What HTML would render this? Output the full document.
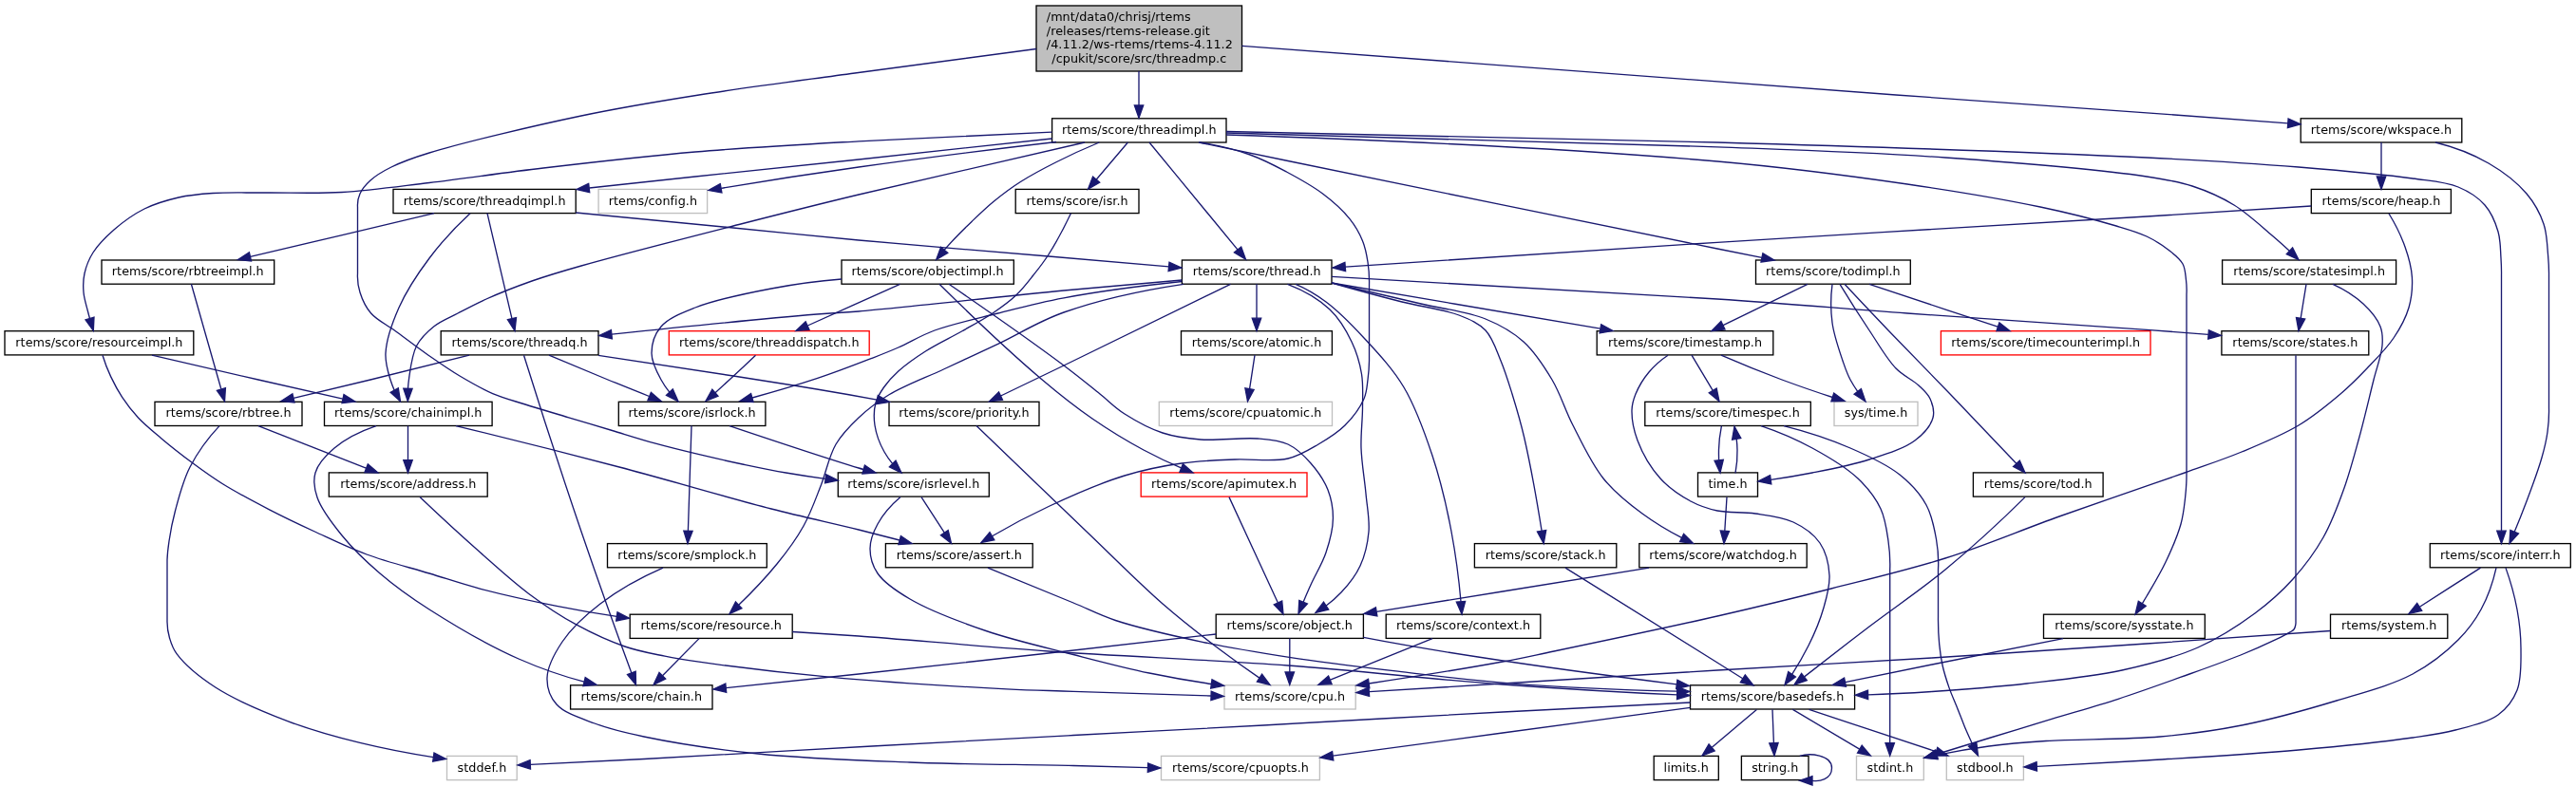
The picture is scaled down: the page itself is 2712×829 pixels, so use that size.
<!DOCTYPE html>
<html><head><meta charset="utf-8"><title>threadmp.c include graph</title>
<style>html,body{margin:0;padding:0;background:#fff;width:2712px;height:829px;overflow:hidden}svg{display:block;will-change:transform}text{letter-spacing:0.05px;font-family:"DejaVu Sans","Liberation Sans",sans-serif;font-size:12.75px;fill:#000}.e path{fill:none;stroke:#191970;stroke-width:1.33}.e polygon{fill:#191970;stroke:#191970;stroke-width:1.33}.n rect{fill:#fff;stroke-width:1.33}.b{stroke:#000}.g{stroke:#bfbfbf}.r{stroke:#f00}</style></head><body>
<svg width="2712" height="829" viewBox="0 0 2712 829">
<rect width="2712" height="829" fill="#fff"/>
<g class="n">
<rect class="b" x="1091" y="6" width="216.5" height="69" style="fill:#bfbfbf"/>
<text x="1101.8" y="21.9">/mnt/data0/chrisj/rtems</text>
<text x="1101.8" y="36.6">/releases/rtems-release.git</text>
<text x="1101.8" y="51.4">/4.11.2/ws-rtems/rtems-4.11.2</text>
<text x="1199.3" y="66.15" text-anchor="middle">/cpukit/score/src/threadmp.c</text>
<rect class="b" x="1107.6" y="124.8" width="183.4" height="25.2"/>
<text x="1199.3" y="140.9" text-anchor="middle">rtems/score/threadimpl.h</text>
<rect class="b" x="2422.2" y="124.8" width="169.6" height="25.2"/>
<text x="2507" y="140.9" text-anchor="middle">rtems/score/wkspace.h</text>
<rect class="b" x="414" y="199.4" width="192.2" height="25.2"/>
<text x="510.1" y="215.6" text-anchor="middle">rtems/score/threadqimpl.h</text>
<rect class="g" x="630.1" y="199.4" width="114.5" height="25.2"/>
<text x="687.4" y="215.6" text-anchor="middle">rtems/config.h</text>
<rect class="b" x="1069.2" y="199.4" width="129.8" height="25.2"/>
<text x="1134.1" y="215.6" text-anchor="middle">rtems/score/isr.h</text>
<rect class="b" x="2433.3" y="199.4" width="147.1" height="25.2"/>
<text x="2506.9" y="215.6" text-anchor="middle">rtems/score/heap.h</text>
<rect class="b" x="107" y="274" width="181.7" height="25.2"/>
<text x="197.8" y="290.2" text-anchor="middle">rtems/score/rbtreeimpl.h</text>
<rect class="b" x="886" y="274" width="181.3" height="25.2"/>
<text x="976.6" y="290.2" text-anchor="middle">rtems/score/objectimpl.h</text>
<rect class="b" x="1244.4" y="274" width="157.6" height="25.2"/>
<text x="1323.2" y="290.2" text-anchor="middle">rtems/score/thread.h</text>
<rect class="b" x="1848.5" y="274" width="162.8" height="25.2"/>
<text x="1929.9" y="290.2" text-anchor="middle">rtems/score/todimpl.h</text>
<rect class="b" x="2339.6" y="274" width="183" height="25.2"/>
<text x="2431.1" y="290.2" text-anchor="middle">rtems/score/statesimpl.h</text>
<rect class="b" x="5" y="348.7" width="198.8" height="25.2"/>
<text x="104.4" y="364.8" text-anchor="middle">rtems/score/resourceimpl.h</text>
<rect class="b" x="464.2" y="348.7" width="165.8" height="25.2"/>
<text x="547.1" y="364.8" text-anchor="middle">rtems/score/threadq.h</text>
<rect class="r" x="704.3" y="348.7" width="210.9" height="25.2"/>
<text x="809.8" y="364.8" text-anchor="middle">rtems/score/threaddispatch.h</text>
<rect class="b" x="1243.5" y="348.7" width="158.9" height="25.2"/>
<text x="1323" y="364.8" text-anchor="middle">rtems/score/atomic.h</text>
<rect class="b" x="1681.2" y="348.7" width="185.6" height="25.2"/>
<text x="1774" y="364.8" text-anchor="middle">rtems/score/timestamp.h</text>
<rect class="r" x="2043.4" y="348.7" width="220.6" height="25.2"/>
<text x="2153.7" y="364.8" text-anchor="middle">rtems/score/timecounterimpl.h</text>
<rect class="b" x="2338.9" y="348.7" width="154.9" height="25.2"/>
<text x="2416.4" y="364.8" text-anchor="middle">rtems/score/states.h</text>
<rect class="b" x="163" y="423.3" width="155" height="25.2"/>
<text x="240.5" y="439.4" text-anchor="middle">rtems/score/rbtree.h</text>
<rect class="b" x="341.5" y="423.3" width="176.6" height="25.2"/>
<text x="429.8" y="439.4" text-anchor="middle">rtems/score/chainimpl.h</text>
<rect class="b" x="651.3" y="423.3" width="154.6" height="25.2"/>
<text x="728.6" y="439.4" text-anchor="middle">rtems/score/isrlock.h</text>
<rect class="b" x="936" y="423.3" width="158" height="25.2"/>
<text x="1015" y="439.4" text-anchor="middle">rtems/score/priority.h</text>
<rect class="g" x="1220.3" y="423.3" width="182.2" height="25.2"/>
<text x="1311.4" y="439.4" text-anchor="middle">rtems/score/cpuatomic.h</text>
<rect class="b" x="1731.8" y="423.3" width="174.5" height="25.2"/>
<text x="1819" y="439.4" text-anchor="middle">rtems/score/timespec.h</text>
<rect class="g" x="1931" y="423.3" width="88" height="25.2"/>
<text x="1975" y="439.4" text-anchor="middle">sys/time.h</text>
<rect class="b" x="346.3" y="497.9" width="166.9" height="25.2"/>
<text x="429.8" y="514.1" text-anchor="middle">rtems/score/address.h</text>
<rect class="b" x="882.3" y="497.9" width="159" height="25.2"/>
<text x="961.8" y="514.1" text-anchor="middle">rtems/score/isrlevel.h</text>
<rect class="r" x="1201.2" y="497.9" width="174.8" height="25.2"/>
<text x="1288.6" y="514.1" text-anchor="middle">rtems/score/apimutex.h</text>
<rect class="b" x="1787.5" y="497.9" width="63" height="25.2"/>
<text x="1819" y="514.1" text-anchor="middle">time.h</text>
<rect class="b" x="2077.4" y="497.9" width="136.7" height="25.2"/>
<text x="2145.8" y="514.1" text-anchor="middle">rtems/score/tod.h</text>
<rect class="b" x="639.5" y="572.6" width="167.8" height="25.2"/>
<text x="723.4" y="588.7" text-anchor="middle">rtems/score/smplock.h</text>
<rect class="b" x="932.4" y="572.6" width="154.8" height="25.2"/>
<text x="1009.8" y="588.7" text-anchor="middle">rtems/score/assert.h</text>
<rect class="b" x="1552.4" y="572.6" width="149.4" height="25.2"/>
<text x="1627.1" y="588.7" text-anchor="middle">rtems/score/stack.h</text>
<rect class="b" x="1725.8" y="572.6" width="176.4" height="25.2"/>
<text x="1814" y="588.7" text-anchor="middle">rtems/score/watchdog.h</text>
<rect class="b" x="2558.3" y="572.6" width="148" height="25.2"/>
<text x="2632.3" y="588.7" text-anchor="middle">rtems/score/interr.h</text>
<rect class="b" x="663.2" y="647.2" width="171" height="25.2"/>
<text x="748.7" y="663.3" text-anchor="middle">rtems/score/resource.h</text>
<rect class="b" x="1280.2" y="647.2" width="155.2" height="25.2"/>
<text x="1357.8" y="663.3" text-anchor="middle">rtems/score/object.h</text>
<rect class="b" x="1459.2" y="647.2" width="162.6" height="25.2"/>
<text x="1540.5" y="663.3" text-anchor="middle">rtems/score/context.h</text>
<rect class="b" x="2151.5" y="647.2" width="169.8" height="25.2"/>
<text x="2236.4" y="663.3" text-anchor="middle">rtems/score/sysstate.h</text>
<rect class="b" x="2453.5" y="647.2" width="123.3" height="25.2"/>
<text x="2515.2" y="663.3" text-anchor="middle">rtems/system.h</text>
<rect class="b" x="600.6" y="721.8" width="149.4" height="25.2"/>
<text x="675.3" y="738" text-anchor="middle">rtems/score/chain.h</text>
<rect class="g" x="1289" y="721.8" width="138.2" height="25.2"/>
<text x="1358.1" y="738" text-anchor="middle">rtems/score/cpu.h</text>
<rect class="b" x="1779.5" y="721.8" width="173.1" height="25.2"/>
<text x="1866" y="738" text-anchor="middle">rtems/score/basedefs.h</text>
<rect class="g" x="470.5" y="796.4" width="73.7" height="25.2"/>
<text x="507.4" y="812.6" text-anchor="middle">stddef.h</text>
<rect class="g" x="1222.5" y="796.4" width="166.9" height="25.2"/>
<text x="1306" y="812.6" text-anchor="middle">rtems/score/cpuopts.h</text>
<rect class="b" x="1741.2" y="796.4" width="68.1" height="25.2"/>
<text x="1775.2" y="812.6" text-anchor="middle">limits.h</text>
<rect class="b" x="1833.4" y="796.4" width="70.6" height="25.2"/>
<text x="1868.7" y="812.6" text-anchor="middle">string.h</text>
<rect class="g" x="1954.5" y="796.4" width="70.8" height="25.2"/>
<text x="1989.9" y="812.6" text-anchor="middle">stdint.h</text>
<rect class="g" x="2049.3" y="796.4" width="81.1" height="25.2"/>
<text x="2089.9" y="812.6" text-anchor="middle">stdbool.h</text>
</g>
<g class="e">
<path d="M1199,75C1199,87 1199,98.9 1199,110.9"/>
<polygon points="1194.3,110.9 1199,124.2 1203.7,110.9"/>
<path d="M1091,51.5C1024.9,60.1 961.2,68.6 900,77C843.2,84.8 786.8,91.9 736,100C691.7,107 655.8,112.8 612,122C561.9,132.5 487.3,150.1 452,161C434,166.5 423.1,170.5 412,176C403.3,180.3 395.7,184.8 390,190C385.3,194.3 381.2,199 379,204C377,208.4 376.2,213.1 376.5,218C376.5,241.3 376.5,264.7 376.5,288C376.1,294.7 376.9,301.4 379,308C381.3,315.4 385,323.6 390.6,330C396.8,337.2 406.7,341.7 415.7,348.3C426.2,356 438.5,365.4 450,373.5C461.4,381.4 472.8,389.4 484.4,396.3C495.7,403 507.1,409.6 518.7,414.6C529.9,419.4 540.7,422.1 553,426C567.1,430.5 583.5,435.2 598.7,439.8C614,444.4 629.2,448.9 644.5,453.5C659.7,458.1 674.9,463 690.2,467.2C705.4,471.4 720.7,475.1 736,478.7C751.2,482.3 766.4,485.8 781.7,489C796.9,492.2 811.4,495.3 827.4,498C840.7,500.3 854.6,502.4 868.9,504.3"/>
<polygon points="868.5,508.9 882.3,506 869.7,499.7"/>
<path d="M1307.5,48.4C1591,70 1820.5,87.2 1996,100C2104.7,107.9 2182.7,113.2 2260,118.8C2315,122.8 2364.5,126.5 2408.7,129.8"/>
<polygon points="2408.4,134.5 2422,130.8 2409.1,125.1"/>
<path d="M1107.6,139.2C1036.9,142 969,145.2 904,148.8C844.2,152.2 788.2,155.2 732,160C677.7,164.7 621.5,171.2 572,177C529.1,182 489.4,188.1 452,192.5C419.3,196.4 389.6,200.8 360,202.5C332.4,204.1 304.3,202.8 280,203C259.7,203.2 240.6,202.4 224,203.5C210.7,204.4 199.9,205.3 188,208C175.9,210.8 163.3,214.4 152,220C140.6,225.7 129.3,233.9 120,242C111.5,249.4 103.3,257.7 98,266C93.5,273.1 90.6,280.7 89,288C87.5,294.7 87.4,301.4 88,308C88.6,314.7 90.8,321.3 92.5,328C93.1,330.5 93.8,333 94.5,335.5"/>
<polygon points="90,336.9 98.3,348.3 99,334.2"/>
<path d="M1107.6,146C1036.9,153.8 969,161.1 904,168C844.3,174.4 784.8,180.4 732,186C692.2,190.2 655,194.2 620.4,198"/>
<polygon points="619.7,193.4 607,199.5 620.7,202.7"/>
<path d="M1112,149.5C1037.9,158.1 968.5,166.9 904,176C852.7,183.2 804.4,190.7 759.2,198.3"/>
<polygon points="758.3,193.7 746,200.5 759.9,202.9"/>
<path d="M1142,150C1051,170.4 971.7,188.7 904,205C853.5,217.1 818.1,226.2 772,238C721.2,251 650.6,269 612,280C589.8,286.3 576.9,290.1 560,296C543.6,301.8 526,308.7 512,315C500.7,320 491.5,325 482,330C473.2,334.6 464.3,337.9 457,343.7C449.8,349.4 443,355.9 438.6,364.3C433.7,373.8 432.1,388.1 430.6,398.6C430.1,402.2 429.7,405.7 429.5,409.1"/>
<polygon points="424.8,409.2 429.3,422.6 434.1,409.4"/>
<path d="M1157.3,150C1141.6,156.5 1126.7,163.3 1112.5,170.5C1099.2,177.2 1086,184.1 1074.4,191.5C1063.9,198.2 1054.6,205.3 1045.8,212.5C1037.6,219.3 1030.2,226.5 1023,233.4C1016.3,239.8 1010.1,245.9 1003.9,252.5C1000.6,256 997.4,259.6 994.2,263.3"/>
<polygon points="990.6,260.3 985.7,273.5 997.8,266.3"/>
<path d="M1187.4,150C1176.4,163 1165.3,176 1154.3,189"/>
<polygon points="1150.6,186.1 1145.5,199.3 1157.7,192.2"/>
<path d="M1210,150C1241,187.6 1271.9,225.2 1302.9,262.9"/>
<polygon points="1299.4,266 1311.5,273.3 1306.7,260.1"/>
<path d="M1263,150C1282.3,153 1300,157.4 1316,163C1330.1,168 1341.8,174.3 1354.4,181C1367.3,187.9 1381.1,195.4 1392.5,204C1403.2,212 1413.7,221.5 1421,230.6C1427,238.1 1431.2,245.6 1434.4,253.4C1437.4,260.7 1438.8,268.3 1440,276C1441.2,283.8 1441.7,291.8 1441.5,300C1441.5,326.7 1441.5,353.3 1441.5,380C1441.4,386.7 1440.9,393.4 1440,400C1439.1,406.7 1439,413.1 1436,420C1432.1,429 1424,440 1416,448C1408,456 1397.9,462.2 1388,468C1377.9,473.9 1368.5,480.1 1356,483C1340.3,486.7 1318.7,483.2 1300,484C1281.3,484.8 1262.9,485.3 1244,488C1224.2,490.8 1205.1,494.5 1184,501C1158.9,508.7 1129.6,521.5 1104,533.5C1083.4,543.1 1063.6,553.5 1044.5,564.7"/>
<polygon points="1042,560.7 1033,571.5 1046.8,568.7"/>
<path d="M1262,150C1281.6,154.1 1313,160.6 1356,169.5C1450.4,188.9 1727.5,245.7 1808,262C1827.9,266 1843.6,269.2 1854.9,271.4"/>
<polygon points="1854,276 1868,274 1855.9,266.9"/>
<path d="M1291,138.5C1469.1,141.4 1641.5,145.2 1808,150C1963.7,154.5 2147.6,160.5 2260,166C2326.9,169.3 2370.5,172 2420,176C2462.9,179.5 2509.1,183.6 2540,188C2559.7,190.8 2574.6,191.5 2588,197C2599.1,201.6 2609,207.9 2616,216C2622.8,223.7 2627.2,234.4 2630,244C2632.7,253.1 2632.4,263.7 2633,272C2633.4,278.7 2633.6,284.7 2633.5,290C2633.5,379.7 2633.5,469.3 2633.5,559"/>
<polygon points="2628.8,559.2 2633.5,572.5 2638.2,559.2"/>
<path d="M1291,140C1496,144.6 1668.3,149.5 1808,154.8C1903.2,158.4 1970.5,160.5 2048,166C2120.9,171.1 2214.6,179.1 2260,186C2281.8,189.3 2292.6,191 2308,196C2323.3,201 2338.2,207.5 2352,216C2366.2,224.7 2380,237.8 2392,248C2398.5,253.5 2404.6,259 2410.3,264.3"/>
<polygon points="2407.2,267.7 2420,273.5 2413.6,260.9"/>
<path d="M1291,142C1503.6,149.2 1676,158.5 1808,170C1890.3,177.2 1947.4,185.2 2008,194C2058.9,201.4 2108,209.6 2148,218C2178.5,224.4 2207.4,231.9 2228,238C2241.2,241.9 2250.3,244.4 2260,249C2268.8,253.2 2277.3,258.7 2284,264C2289.6,268.4 2295.1,272.6 2298,278C2300.7,283 2300.8,289.5 2301.5,295C2302.1,300.1 2302.3,305.1 2302,310C2302,373.3 2302,436.7 2302,500C2302,508.2 2301.5,516.5 2300.5,525C2299.5,533.9 2298.7,542.3 2296,552C2292.6,564.2 2286.1,579.2 2280,592C2274.1,604.5 2265.9,618 2260,628C2258.4,630.7 2256.8,633.3 2255.3,635.8"/>
<polygon points="2251.3,633.3 2248,647 2259.2,638.4"/>
<path d="M2507,150C2507,162 2507,173.9 2507,185.9"/>
<polygon points="2502.3,185.9 2507,199.2 2511.7,185.9"/>
<path d="M2564,150C2584.9,155.1 2603.5,162.5 2620,172C2635.2,180.8 2650,192.3 2660,204C2668.4,213.9 2674.3,225 2678,236C2681.5,246.3 2681.6,258.3 2682.5,268C2683.2,276 2683.6,283.3 2683.5,290C2683.5,336.7 2683.5,383.3 2683.5,430C2683.7,438.2 2683.2,446.6 2682,455C2680.8,463.9 2678.9,471.9 2676,482C2672.2,495.4 2665.7,512.9 2660,528C2655.9,538.8 2651.7,549.5 2647.3,560.1"/>
<polygon points="2642.9,558.4 2642,572.5 2651.5,562.1"/>
<path d="M2433.3,217C2389.1,219.9 2331.4,223.6 2260,228C2144.8,235.1 1954.5,246 1808,255.3C1674,263.8 1543.4,272.4 1416.4,281.1"/>
<polygon points="1415.9,276.4 1403,282 1416.6,285.7"/>
<path d="M2515,225C2522.2,236.7 2527.9,248.4 2532,260C2535.8,270.7 2538.7,281.3 2539.4,292C2540,302.6 2539,313.6 2536,324C2532.8,335 2526.9,345.8 2520,356C2512.5,367.2 2501.6,378 2492,388C2482.9,397.6 2474.7,405.9 2464,415C2451.3,425.8 2436.4,438.2 2420,448C2402,458.8 2380.2,467.6 2360,476C2340.2,484.2 2323.9,489.4 2300,498C2264.6,510.7 2210.9,528.7 2168,544C2127,558.7 2088.3,575.3 2048,588C2008.3,600.5 1968.1,609.8 1928,620C1888.1,630.2 1851.7,639 1808,649C1755.9,660.9 1677.2,677.4 1636,686C1612.9,690.8 1604.7,692.9 1582,697C1546.5,703.5 1499.5,711.2 1441.2,720"/>
<polygon points="1440.5,715.4 1428,722 1441.8,724.6"/>
<path d="M457,224.7C392.5,239.9 328.1,255.2 263.6,270.4"/>
<polygon points="262.4,265.9 250.5,273.5 264.5,275"/>
<path d="M495,224.7C478.9,239.5 464.6,255.2 452,272C439.7,288.4 427.8,306.5 420,324C413,339.9 406.7,358.1 406,372C405.4,382.5 408.3,391.3 411,400C412.2,403.8 413.6,407.4 415.1,410.9"/>
<polygon points="411.1,413.3 421.5,422.8 419.3,408.9"/>
<path d="M513,224.7C521.6,261.6 530.3,298.5 538.9,335.3"/>
<polygon points="534.4,336.6 542,348.5 543.5,334.5"/>
<path d="M606.2,224C664.6,229.6 719.9,234.9 772,240C818.5,244.5 855.4,248.5 904,253C963.7,258.5 1043.3,264.8 1104,270C1149.5,273.9 1191.7,277.5 1230.5,280.9"/>
<polygon points="1230.1,285.5 1243.8,282 1231,276.2"/>
<path d="M1127.4,224.7C1119.3,241.8 1111.5,256.2 1104,268C1098.4,276.8 1093.5,282.9 1087.8,290C1082.1,297.2 1076.6,304.5 1069.7,311C1062.4,317.9 1054,323.9 1045,330C1035.1,336.7 1023.8,342.6 1012.5,349C1000.3,355.9 986,362.6 974.4,370C963.9,376.7 953.6,384 945.8,391C939.6,396.6 934.6,402.2 930.5,408C926.9,413.2 923.7,417.9 922,424C920.1,431 919.8,439.8 921,448C922.4,457.1 926.2,467.6 931,476C933.5,480.4 936.4,484.5 939.6,488.4"/>
<polygon points="936.4,491.8 949,498 943,485.2"/>
<path d="M201.4,299.3C211.9,336.1 222.3,373 232.8,409.8"/>
<polygon points="228.4,411.3 236.5,422.8 237.4,408.7"/>
<path d="M886,294C861.7,295.9 837,299.2 812,304C785.7,309 753,315.7 732,324C717.2,329.9 703.6,335 696,344C689.5,351.6 686,362.7 686,372C686,381.3 691.3,391.5 696,400C698.5,404.6 701.5,409 704.8,413.1"/>
<polygon points="701.5,416.3 714,422.8 708.3,409.9"/>
<path d="M947.5,299.3C915.1,313.9 882.7,328.4 850.3,343"/>
<polygon points="848.2,338.8 838,348.5 852,347.3"/>
<path d="M989,299.3C1030.2,340.1 1065.9,373.3 1096,399C1116.6,416.5 1131.6,428.3 1150,441C1167.7,453.2 1185.9,464.3 1204,474C1217.1,481 1230.2,487.3 1243.5,492.9"/>
<polygon points="1241.9,497.3 1256,498 1245.4,488.7"/>
<path d="M999,299.3C1050.9,334.9 1091.2,363.5 1120,385C1136.4,397.3 1146.6,405.9 1158,415C1167.5,422.6 1174,429.6 1184,436C1195.6,443.4 1210.3,451.5 1224,456C1237,460.3 1249.3,461.8 1264,463C1281.9,464.4 1307.2,460.6 1324,462C1336.4,463 1346.6,463.6 1356,468C1365.2,472.3 1373.1,480.2 1380,488C1387.1,496.1 1394.1,506.1 1398,516C1401.7,525.5 1403.5,535.6 1403.4,546C1403.3,557.5 1399.9,570.4 1396,582C1392.1,593.7 1385,604.9 1380,616C1377.2,622.1 1374.6,628.2 1372.1,634.2"/>
<polygon points="1367.8,632.4 1367,646.5 1376.4,636"/>
<path d="M1942,299.3C1955.9,314.3 1971.3,330.5 1988,348C2007.7,368.6 2030.3,391.4 2053,415C2075.3,438.2 2098.6,462.7 2122.8,488.3"/>
<polygon points="2119.5,491.5 2132,498 2126.3,485.1"/>
<path d="M1903,299.3C1873.4,313.7 1843.8,328.2 1814.1,342.6"/>
<polygon points="1811.9,338.5 1802,348.5 1816,346.9"/>
<path d="M1968,299.3C2013.1,314.3 2058.1,329.3 2103.2,344.2"/>
<polygon points="2101.9,348.7 2116,348.5 2104.9,339.9"/>
<path d="M1929,299.3C1927.2,313 1927.2,326.6 1929,340C1930.8,353.5 1936.3,369 1940,380C1942.7,387.9 1944.4,393.3 1948,400C1950.2,404.1 1952.8,408.2 1955.7,412.3"/>
<polygon points="1952.1,415.2 1964,422.8 1959.4,409.5"/>
<path d="M1937,299.3C1947.4,316.4 1957.8,332.7 1968,348C1977.4,362.1 1986.2,377.9 1996,388C2003.7,396 2013.6,400 2020,406C2025,410.7 2029.5,414.5 2032,420C2034.6,425.8 2036.8,433.4 2035,440C2032.8,448.1 2024.9,457.3 2016,464C2004.4,472.8 1985.1,478.5 1968,484C1949.3,490 1927.8,494.1 1908,498C1893.3,500.9 1878.8,503.3 1864.3,505.3"/>
<polygon points="1863.6,500.7 1851,507 1864.8,509.9"/>
<path d="M2428,299.3C2426.1,311.2 2424.1,323.2 2422.2,335.1"/>
<polygon points="2417.5,334.6 2420,348.5 2426.7,336.1"/>
<path d="M2456,299.3C2468.7,305.1 2479.4,312 2488,320C2495.6,327.1 2502.9,335.9 2506,344C2508.6,350.6 2508.6,356.4 2508,364C2507.2,374.3 2502.4,386.5 2499,400C2494.6,417.5 2489.3,440.6 2484,460C2478.9,478.5 2474.3,496.3 2468,514C2461.7,531.7 2455.1,549.9 2446,566C2437.1,581.8 2426,596.6 2414,610C2402,623.3 2389.3,634.7 2374,646C2356.6,658.9 2336.1,672.2 2314,682C2289.8,692.7 2262.4,699.8 2234,706C2202.8,712.8 2167.4,716.2 2134,720C2100.7,723.7 2065.6,726.4 2034,728.5C2010.6,730 1988.1,731.2 1966.7,731.9"/>
<polygon points="1966.5,727.2 1953.3,732.3 1966.7,736.6"/>
<path d="M108,374.2C110.3,381.8 113.2,389.3 116.6,396.6C120.1,404 123.9,411.2 128.6,418.3C133.5,425.7 139,433 145.5,440C152.6,447.6 160.8,454.2 169.7,461.7C179.9,470.3 192.3,480 203.5,488.3C214,496.1 223.1,502.7 234.9,510C249.1,518.8 266.9,528.2 283.1,536.6C299.1,544.9 314.7,552.3 331.4,560C349,568.1 366.7,576.9 386,584C406.7,591.7 431.1,597.7 452,604C470.9,609.7 486.1,615.1 506,620.3C530,626.6 559.6,633.1 586,638.3C607.2,642.5 628.3,646.2 649.3,649.4"/>
<polygon points="648.7,654 662.5,651.3 650,644.7"/>
<path d="M160,374.2C198.2,383.1 235.5,391.7 272,400C302.2,406.9 331.8,413.6 360.8,420.1"/>
<polygon points="360,424.7 374,423 362,415.5"/>
<path d="M1244.4,295C1208.6,297.8 1167.1,301.5 1120,306C1057.9,311.9 948.8,324.2 904,328C883.8,329.7 880.4,329.3 860,331C815.4,334.7 743.4,341.7 644,352.1"/>
<polygon points="643.4,347.5 630.7,353.5 644.4,356.8"/>
<path d="M1244.4,296.5C1196.8,301.5 1155.3,307.2 1120,313.8C1093.4,318.7 1073.4,324.2 1050.6,330C1028.1,335.7 1002.9,341.1 984,348C969.2,353.4 957.7,360.8 945.8,366C935.6,370.5 928.3,373.3 917,377.7C901.3,383.8 880.8,391.8 860,398.7C839.1,405.6 816.4,412.4 792,419"/>
<polygon points="790.6,414.6 779,422.5 793.1,423.6"/>
<path d="M1246,299.3C1197.2,306.6 1155.2,316.5 1120,329C1092.8,338.6 1072.6,352 1050.6,362.4C1030.6,371.8 1012.5,380.1 993.4,389C974.3,397.9 951.9,406.2 936,415.8C923.3,423.4 913.5,431.1 904,440C894.9,448.6 886.5,456.9 880,468C872.7,480.5 869.7,497.6 864,512C858.4,526.2 853.5,540.5 846,554C838.3,567.9 829.3,580.2 818,594C806.6,608 793.1,622.4 777.7,637.3"/>
<polygon points="774.4,634 768,646.5 780.9,640.7"/>
<path d="M1295.5,299.3C1225.4,333.7 1166.9,362.3 1120,385C1094.4,397.4 1072.3,408.1 1053.6,417"/>
<polygon points="1051.5,412.9 1041.5,422.8 1055.5,421.3"/>
<path d="M1323,299.3C1323,311.3 1323,323.2 1323,335.2"/>
<polygon points="1318.3,335.2 1323,348.5 1327.7,335.2"/>
<path d="M1355.5,299.3C1373.6,306.2 1388.5,315.1 1400,326C1410.3,335.7 1417.4,348.2 1423,360C1428.3,371 1431.6,382.4 1433.5,394C1435.4,405.7 1434.5,417.5 1434.5,430C1434.4,443.5 1432.5,457.6 1433,472C1433.5,487.5 1436.6,504.7 1438,520C1439.2,533.9 1442.1,547.1 1441,560C1439.9,572.4 1437,585.2 1432,596C1427.2,606.4 1419.8,615.8 1412,624C1407.2,629.1 1401.9,633.8 1396.2,638"/>
<polygon points="1393.5,634.2 1385,645.5 1398.7,642"/>
<path d="M1364,299.3C1374.5,303.7 1385.2,309.9 1396,318C1409.2,327.9 1423,341.9 1436,356C1450.4,371.6 1466.3,388.3 1478,408C1490.7,429.3 1499.7,455 1508,480C1516.5,505.7 1522.9,532.6 1528,560C1532.5,584 1535.8,608.5 1538,633.6"/>
<polygon points="1533.3,634.1 1539,647 1542.6,633.4"/>
<path d="M1402,298C1427.9,305.4 1452.6,312.1 1476,318C1497,323.3 1520.1,325.8 1536,332C1547.5,336.5 1556.7,340.3 1564,348C1571.6,356.1 1575.4,368.9 1580,380C1584.7,391.3 1588.1,402.5 1592,415C1596.3,429 1600.2,441.5 1604.5,460C1610.5,486.1 1616.7,519.1 1623.1,559.1"/>
<polygon points="1618.5,560.1 1625.2,572.5 1627.7,558.6"/>
<path d="M1402,298C1435.9,305.9 1467.2,313.2 1496,320C1520.5,325.7 1544.8,328.2 1564,336C1579.7,342.4 1592.5,349.6 1604,360C1615.9,370.8 1625.4,385.6 1634,400C1642.8,414.8 1647.6,431.6 1656,448C1665.3,466.2 1675.2,488.1 1688,504C1699.8,518.7 1713.8,529.9 1729,541C1741.7,550.3 1755.5,558.8 1770.4,566.4"/>
<polygon points="1768.5,570.7 1782.5,572.3 1772.6,562.3"/>
<path d="M1402,298C1496.2,314.1 1590.5,330.2 1684.7,346.2"/>
<polygon points="1684.1,350.9 1698,348.5 1685.7,341.7"/>
<path d="M1402,291.4C1561.1,299.7 1696.4,307.6 1808,315C1886.4,320.2 1937.5,324.9 2008,330C2087.1,335.7 2199.9,343 2260,347.4C2286.2,349.3 2307.8,350.9 2324.9,352.3"/>
<polygon points="2324.7,357 2338.3,353.4 2325.4,347.7"/>
<path d="M494,374.2C458.5,383.2 423.8,391.8 390,400C362.5,406.7 335.5,413.2 309.1,419.4"/>
<polygon points="307.9,414.9 296,422.5 310,424"/>
<path d="M551.5,374.2C571.5,438.4 591.7,500.4 612,560C629.5,611.3 647.1,661 664.9,708.9"/>
<polygon points="660.5,710.6 669.5,721.4 669.2,707.3"/>
<path d="M578,374.2C599.2,383.2 619.8,391.8 640,400C654.8,406 669.2,411.9 683.5,417.5"/>
<polygon points="681.9,421.9 696,422.5 685.4,413.3"/>
<path d="M630,374.3C683,382.3 730.3,389.5 772,396C804.8,401.1 831.7,405.3 860,410C881.7,413.6 902.8,417.3 923.3,421.1"/>
<polygon points="922.6,425.7 936.5,423.5 924.3,416.5"/>
<path d="M795.5,374.2C786.2,383.1 777,391.7 768,400C762.9,404.7 757.9,409.2 753,413.7"/>
<polygon points="749.8,410.2 743,422.5 756,417.2"/>
<path d="M1321,374.2C1319.2,385.9 1317.4,397.7 1315.6,409.4"/>
<polygon points="1310.9,408.9 1313.5,422.8 1320.1,410.4"/>
<path d="M1781,374.2C1788.4,386.5 1795.7,398.9 1803.1,411.2"/>
<polygon points="1799.2,413.8 1810,422.8 1807.2,409"/>
<path d="M1812,374.2C1833.1,383.4 1854.4,392 1876,400C1893.6,406.5 1911.3,412.7 1929.3,418.5"/>
<polygon points="1927.9,422.9 1942,422.5 1930.7,414"/>
<path d="M1756,374.2C1748.3,379.3 1741.7,385.2 1736,392C1730.3,398.8 1725,407.7 1722,415C1719.6,420.9 1718.2,425.4 1718,432C1717.8,441 1719.9,453.1 1724,464C1728.9,477 1738.2,493.1 1748,504C1757.1,514.1 1769.2,522.2 1780,528C1789.3,533 1797.7,535.8 1808,538C1820,540.5 1834.7,539 1848,541C1861.4,543 1876.4,544.5 1888,550C1898.8,555.1 1909.7,562.7 1916,572C1922.3,581.3 1925.4,594.6 1926,606C1926.6,617.3 1923.3,628.4 1920,640C1916.3,653 1910.6,666.8 1904,680C1898.9,690.2 1893.1,700.3 1886.6,710.3"/>
<polygon points="1882.7,707.7 1879,721.3 1890.4,713"/>
<path d="M2417,374.2C2417,467.8 2417,561.4 2417,655C2417.1,656.4 2416.9,657.7 2416.6,659C2416.3,660.4 2415.9,661.9 2415,663C2414.1,664.1 2413.1,664.6 2411.4,665.6C2408.1,667.6 2402.3,670.7 2396,673.7C2386.4,678.3 2372.7,684.5 2359,690C2342.5,696.7 2323.5,703.4 2303.7,710.5C2280.9,718.7 2254.3,728.4 2230,736.3C2206.5,744 2183,750.4 2160,757.4C2137.7,764.2 2116.2,770.7 2094,777.5C2075.7,783.1 2057.3,788.8 2038.8,794.5"/>
<polygon points="2037.3,790.1 2026,798.5 2040.1,799"/>
<path d="M272,448.6C309.8,463.4 347.6,478.2 385.4,493.1"/>
<polygon points="383.9,497.5 398,498 387.3,488.8"/>
<path d="M231,448.6C218.2,462.2 207.8,476.7 200,492C192.5,506.6 188.3,523.9 184.5,538C181.4,549.5 179.4,560.5 178,570C176.9,577.4 176.2,584.1 176,590C176,611.7 176,633.3 176,655C176,660.8 176.9,666.5 178.5,672C180.2,677.7 181.5,682.6 186,688.6C193.7,699 210.2,713.2 226.8,724C247.5,737.4 277.1,749.8 302.8,759.6C327.8,769.1 352.2,775.9 378.9,782.4C403.6,788.4 429.3,793.5 456.2,797.6"/>
<polygon points="455.7,802.2 469.5,799.5 457,793"/>
<path d="M429.5,448.6C429.5,460.6 429.5,472.5 429.5,484.5"/>
<polygon points="424.8,484.7 429.5,498 434.2,484.7"/>
<path d="M396,448.6C377.8,454.8 363.1,462.6 352,472C343,479.6 334.7,488.8 332,498C329.6,506.2 330.9,514.8 334,524C338.2,536.4 349.6,551.2 360,564C371.3,578 385.3,591.4 400,604C415.7,617.5 431.6,629 452,642C478.3,658.8 515.1,680.5 546,694C569.2,704.2 592.2,712.2 614.9,718.1"/>
<polygon points="614,722.7 628,721.3 616.2,713.6"/>
<path d="M480,448.6C538.4,462.7 595.8,477.2 652,492C706.4,506.3 765.9,524.2 812,536C846.8,544.9 877.1,551.3 904,558C919.6,561.9 934,565.6 947,569"/>
<polygon points="945.9,573.6 960,572.5 948.4,564.5"/>
<path d="M728,448.6C726.8,485.4 725.6,522.2 724.4,559"/>
<polygon points="719.8,559.1 724,572.5 729.1,559.4"/>
<path d="M768,448.6C834.4,470.9 879.8,485.7 904,493C905.8,493.5 907.4,494 909,494.5"/>
<polygon points="907.9,499 922,498 910.4,490"/>
<path d="M1028,448.6C1070.2,489.3 1108.9,526.4 1144,560C1173.1,587.8 1198.8,614 1224,636C1245,654.3 1264.4,669.3 1284,684C1298.2,694.7 1312.2,704.7 1325.9,714.1"/>
<polygon points="1323.4,718 1337,721.5 1328.6,710.2"/>
<path d="M1812.4,448.6C1810.7,457.2 1809.7,465.6 1809.5,474C1809.4,477.5 1809.5,481.1 1809.6,484.6"/>
<polygon points="1805,485.2 1811,498 1814.3,484.3"/>
<path d="M1827,498.3C1828.5,490.2 1829.2,482.1 1829,474C1828.9,470.1 1828.7,466.3 1828.2,462.4"/>
<polygon points="1832.8,461.5 1826,449.2 1823.6,463.1"/>
<path d="M1854,448.6C1872.9,454.9 1890.9,462.7 1908,472C1924.9,481.2 1943.5,492.2 1956,504C1966.4,513.9 1974.7,524.6 1980,536C1985,546.7 1986.4,559 1988,570C1989.5,580.2 1990.1,590.2 1989.7,600C1989.7,660.8 1989.7,721.7 1989.7,782.5"/>
<polygon points="1985,782.7 1989.7,796 1994.4,782.7"/>
<path d="M1878,448.6C1903.4,455 1926.8,462.8 1948,472C1967,480.2 1986.1,488.9 2000,500C2011.8,509.4 2021.6,520.2 2028,532C2034,543 2036.4,556.2 2038.5,568C2040.4,578.9 2041.1,589.5 2040.5,600C2040.5,616.7 2040.5,633.3 2040.5,650C2040.4,660.1 2040.8,669.6 2041.7,678.6C2042.5,686.7 2043.5,693.9 2045.2,701.5C2046.9,709.2 2049.4,716.8 2052,724.4C2054.7,732.1 2058.2,739.6 2061.2,747.2C2064.3,754.8 2066.9,762.3 2070.3,770.1C2072.3,774.7 2074.4,779.3 2076.6,784"/>
<polygon points="2072.4,786.1 2082.5,796 2080.8,782"/>
<path d="M1818,523.6C1817.3,535.5 1816.5,547.3 1815.8,559.2"/>
<polygon points="1811.2,558.9 1815,572.5 1820.5,559.5"/>
<path d="M442,523.6C464.3,544.8 485.5,564.3 505.7,582.1C523.4,597.7 539.1,612.3 556.4,625.2C572.9,637.5 589.8,648.8 607.1,658.2C623.7,667.2 641.4,675.4 657.8,681C672.2,686 686.4,688.4 699.9,691.2C712.3,693.7 720,694.9 735.9,697.2C766.8,701.6 823.7,708.7 873,713.2C930.4,718.5 1012.7,723.4 1060,725.8C1088.9,727.3 1102,727.3 1130,728.3C1169.2,729.6 1217.5,731.2 1274.9,733"/>
<polygon points="1274.9,737.7 1288.3,733.4 1275.2,728.3"/>
<path d="M970,523.6C978.1,536.1 986.2,548.6 994.3,561.1"/>
<polygon points="990.4,563.7 1001.5,572.3 998.2,558.6"/>
<path d="M948,523.6C937.4,532.7 929.4,542.2 924,552C919.4,560.4 916,569.3 916,578C916,586.7 918.5,596 924,604C930.9,614.1 943.5,622.5 958,631C978.4,643.1 1010.1,654.9 1038,664.5C1067.3,674.6 1100.4,681.9 1130,689.5C1157.5,696.6 1183.4,703.5 1210,709C1231.7,713.5 1253.5,717.3 1275.2,720.5"/>
<polygon points="1274.7,725.1 1288.5,722.3 1276,715.8"/>
<path d="M1294,523.6C1311.1,560.6 1328.2,597.7 1345.3,634.7"/>
<polygon points="1341.2,636.9 1351,647 1349.7,633"/>
<path d="M2132,523.6C2104.2,551.2 2076.2,576.7 2048,600C2021.5,621.9 1994.5,639.8 1968,660C1945.1,677.5 1922.3,695.1 1899.6,712.9"/>
<polygon points="1896.6,709.4 1889,721.3 1902.3,716.7"/>
<path d="M698,598.1C672.5,609.2 650.5,621.8 632,636C616.1,648.2 601.5,661.9 592,676C583.9,688.1 576.3,702.2 576,714C575.7,724 579.3,734.4 586,742C594.2,751.3 611.5,756.5 626,762C641.9,768.1 656.9,771.6 678,776C709.6,782.6 755,789.6 798,794C847.4,799.1 903.7,800.9 958,803C1014.3,805.2 1081.6,805.3 1130,806.5C1159.4,807.2 1185.6,807.9 1208.4,808.6"/>
<polygon points="1208.3,813.3 1221.7,809 1208.6,803.9"/>
<path d="M1040,598.1C1075.3,612.5 1105.3,624.8 1130,635C1147.4,642.2 1156.7,647.6 1174.4,653.5C1199.2,661.7 1235.4,669.8 1266,676.3C1296.3,682.7 1325.1,687.4 1357.3,692.3C1393.2,697.8 1433.2,702.6 1471.7,707.2C1510.8,711.8 1545.9,716.4 1590,719.8C1642.1,723.8 1700.6,726.6 1765.7,728.2"/>
<polygon points="1765.6,732.9 1779,728.5 1765.8,723.5"/>
<path d="M1648,598.1C1719.7,642.8 1773.1,676.1 1808,698C1818.6,704.6 1827.5,710.2 1834.7,714.8"/>
<polygon points="1832.3,718.8 1846,722 1837.3,710.9"/>
<path d="M1736,598.1C1684,606.5 1632.7,614.8 1582,623C1537.2,630.2 1492.9,637.4 1449.2,644.4"/>
<polygon points="1448.4,639.8 1436,646.5 1449.9,649"/>
<path d="M2611.5,598.1C2590.1,611.8 2568.8,625.5 2547.4,639.2"/>
<polygon points="2544.7,635.4 2536,646.5 2549.7,643.3"/>
<path d="M2628,598.1C2624.4,614.3 2619.1,629 2612,642C2605.5,654 2598.3,663.7 2588,674C2575.4,686.6 2558.9,699.9 2540,710C2517.5,722 2488.3,729.4 2460,738C2428.7,747.5 2392.3,757.6 2360,764C2330.4,769.9 2305.1,773.3 2274,776C2237.4,779.2 2187.1,778.4 2154,780.5C2130.5,782 2114.6,783.2 2094,786C2076.1,788.4 2057.8,791.5 2039.1,795.3"/>
<polygon points="2038.1,790.7 2026,798 2040,799.8"/>
<path d="M2638,598.1C2643.3,612.9 2647.3,627.5 2650,642C2652.5,655.8 2654,669.1 2654,683C2654,697.4 2654.8,714.8 2650,727C2645.9,737.5 2639.3,746.3 2630,753C2618.8,761.1 2600.2,765 2585,769C2570.2,772.9 2558.7,774.3 2540,777C2509.7,781.3 2462.9,786.2 2420,790C2370.5,794.4 2310.5,797.9 2260,801C2219.6,803.5 2181.1,805.6 2144.3,807.4"/>
<polygon points="2144.1,802.7 2131,808 2144.5,812"/>
<path d="M736,672.6C723.2,685.6 710.3,698.6 697.5,711.7"/>
<polygon points="694,708.5 688,721.3 700.7,715.1"/>
<path d="M834.2,665.5C851.5,666.4 874.8,667.9 904,670C953.5,673.6 1033.5,681.1 1104,686C1183.1,691.5 1274.3,695 1356,701C1433.4,706.7 1509.2,715.7 1582,721C1645.1,725.6 1706.4,729.3 1765.7,731.9"/>
<polygon points="1765.5,736.6 1779,732.5 1765.9,727.3"/>
<path d="M1280.2,668C1223.3,674.6 1164.6,681.2 1104,688C1039.5,695.2 966.2,703.3 904,710C854.6,715.3 808.1,720.2 764.3,724.6"/>
<polygon points="763.8,720 751,726 764.7,729.3"/>
<path d="M1357.8,672.6C1357.8,684.4 1357.8,696.2 1357.8,708"/>
<polygon points="1353.1,708 1357.8,721.3 1362.5,708"/>
<path d="M1435.4,671.4C1469.4,678 1509.6,684.9 1556,692C1615.5,701.2 1685.3,710.8 1765.2,720.8"/>
<polygon points="1764.7,725.5 1778.5,722.5 1765.9,716.2"/>
<path d="M1508,672.6C1472.2,687.1 1436.3,701.7 1400.5,716.2"/>
<polygon points="1398.6,712 1388,721.3 1402.1,720.6"/>
<path d="M2172,672.6C2122.8,682.3 2076.8,691.4 2034,700C2001.7,706.5 1971.3,712.7 1942.6,718.6"/>
<polygon points="1941.6,714 1929.5,721.3 1943.5,723.2"/>
<path d="M2453.5,664.5C2391.5,668.9 2327,673.4 2260,678C2187.6,682.9 2109.3,688.3 2034,693C1958.7,697.7 1883.3,701.5 1808,706C1732.7,710.5 1650.1,715.8 1582,720C1531.1,723.1 1484.3,726 1441.5,728.7"/>
<polygon points="1441,724 1428,729.5 1441.6,733.3"/>
<path d="M1779.5,740C1717.7,743 1651.8,746.3 1582,750C1503.1,754.2 1409.2,759.7 1330,764C1259.5,767.8 1197.6,770.9 1130,774.5C1060.4,778.2 990.9,782 918,786C840.5,790.3 746.3,795.9 678,799.5C633.1,801.9 593.3,803.8 558.5,805.4"/>
<polygon points="558.1,800.7 545,806 558.5,810.1"/>
<path d="M1779.5,745.4C1713.2,754.3 1647.4,763.2 1582,772C1522,780.1 1462.5,788.2 1403.3,796.2"/>
<polygon points="1402.6,791.6 1390,798 1403.8,800.8"/>
<path d="M1849.4,747.4C1833.7,760.7 1818,774 1802.3,787.3"/>
<polygon points="1799.1,783.8 1792,796 1805.2,791"/>
<path d="M1866,747.4C1866.5,759.1 1867,770.8 1867.4,782.5"/>
<polygon points="1862.8,782.9 1868,796 1872.1,782.5"/>
<path d="M1887.4,747.4C1910.8,761.3 1934.2,775.2 1957.7,789.1"/>
<polygon points="1955.5,793.2 1969.3,796 1960.2,785.2"/>
<path d="M1904.6,747.4C1949.1,762.2 1993.7,777 2038.2,791.7"/>
<polygon points="2036.9,796.2 2051,796 2039.8,787.4"/>
<path d="M1894.8,796.4C1905,793 1928.5,795 1928.5,809C1928.5,821 1915,823.5 1908,822.3"/>
<polygon points="1908,817.6 1894.8,822.3 1908,827"/>
</g></svg></body></html>
